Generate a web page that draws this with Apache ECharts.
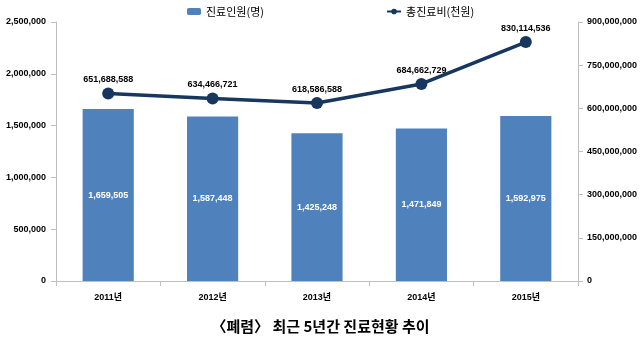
<!DOCTYPE html>
<html><head><meta charset="utf-8">
<script src="https://cdn.jsdelivr.net/npm/echarts@6/dist/echarts.min.js"></script>
<style>html,body{margin:0;padding:0;background:#fff}#c{width:641px;height:341px}</style>
</head><body><div id="c"></div>
<script>
const categories = ['2011년','2012년','2013년','2014년','2015년'];
const patients = [1659505,1587448,1425248,1471849,1592975];
const costs = [651688588,634466721,618586588,684662729,830114536];
const barName = '진료인원(명)';
const lineName = '총진료비(천원)';
const titleText = '〈폐렴〉 최근 5년간 진료현황 추이';

const FONT = '"Liberation Sans", "Noto Sans CJK KR", sans-serif';
const KFONT = '"Noto Sans CJK KR", sans-serif';
const fmt = v => Number(v).toLocaleString('en-US');
const chart = echarts.init(document.getElementById('c'));
chart.setOption({
  animation: false,
  textStyle: {fontFamily: FONT},
  title: {text: titleText, left: 'center', top: 314, textStyle: {fontSize: 15, fontWeight: 'bold', color: '#000', fontFamily: KFONT}},
  legend: {top: 1, itemGap: 122, left: 182, itemWidth: 14, itemHeight: 7,
    textStyle: {fontSize: 11, color: '#000', fontFamily: KFONT},
    data: [{name: barName}, {name: lineName}]},
  grid: {left: 56, right: 63, top: 22, bottom: 60},
  xAxis: {type: 'category', data: categories,
    axisLine: {lineStyle: {color: '#BFBFBF'}},
    axisTick: {show: true, alignWithLabel: false, lineStyle: {color: '#BFBFBF'}},
    axisLabel: {color: '#000', fontSize: 9, fontWeight: 'bold', margin: 12}},
  yAxis: [
    {type: 'value', min: 0, max: 2500000, interval: 500000,
      axisLine: {show: true, lineStyle: {color: '#BFBFBF'}},
      axisTick: {show: true, lineStyle: {color: '#BFBFBF'}},
      splitLine: {show: false},
      axisLabel: {color: '#000', fontSize: 9, fontWeight: 'bold', formatter: fmt, margin: 10}},
    {type: 'value', min: 0, max: 900000000, interval: 150000000, position: 'right',
      axisLine: {show: true, lineStyle: {color: '#BFBFBF'}},
      axisTick: {show: true, lineStyle: {color: '#BFBFBF'}},
      splitLine: {show: false},
      axisLabel: {color: '#000', fontSize: 9, fontWeight: 'bold', formatter: fmt, margin: 9}}
  ],
  series: [
    {name: barName, type: 'bar', data: patients, barWidth: '49%', yAxisIndex: 0,
      itemStyle: {color: '#4F81BD'},
      label: {show: true, position: 'inside', color: '#fff', fontSize: 9, fontWeight: 'bold', formatter: p => fmt(p.value)}},
    {name: lineName, type: 'line', data: costs, yAxisIndex: 1,
      symbol: 'circle', symbolSize: 12,
      lineStyle: {color: '#17375E', width: 3.5},
      itemStyle: {color: '#17375E'},
      label: {show: true, position: 'top', distance: 3, color: '#000', fontSize: 9, fontWeight: 'bold', formatter: p => fmt(p.value)}}
  ]
});
</script></body></html>
